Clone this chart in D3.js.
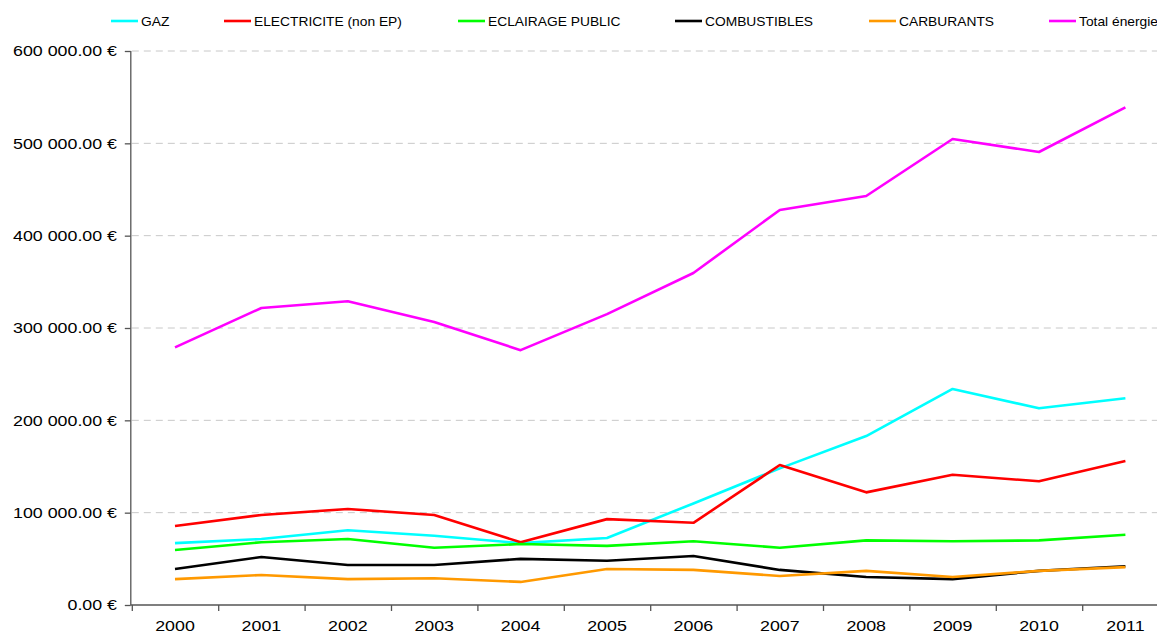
<!DOCTYPE html>
<html>
<head>
<meta charset="utf-8">
<script src="https://cdn.jsdelivr.net/npm/d3@7"></script>
<style>
  body { margin: 0; background: #fff; }
  svg { font-family: "Liberation Sans", Arial, sans-serif; }
  .grid line { stroke: #c8c8c8; stroke-dasharray: 7,5; }
  .axis path, .axis line { stroke: #555; stroke-width: 1.3; }
</style>
</head>
<body>
<div id="chart"></div>
<script>
// data
var years = ["2000","2001","2002","2003","2004","2005","2006","2007","2008","2009","2010","2011"];
var gaz          = [67000, 71500, 81000, 75000, 67000, 72500, 110000, 148000, 183000, 234000, 213000, 224000];
var electricite  = [85500, 97500, 104000, 97500, 68000, 93000, 89000, 151600, 122000, 141000, 134000, 156000];
var eclairage    = [59500, 68000, 71500, 62000, 66000, 64000, 69000, 62000, 70000, 69000, 70000, 76000];
var combustibles = [39000, 52000, 43300, 43300, 50000, 48000, 53000, 38000, 30300, 28000, 37000, 42000];
var carburants   = [28000, 32500, 28000, 29000, 25000, 39000, 38000, 31400, 37000, 30300, 37000, 41000];
var total        = [279000, 321700, 329000, 306500, 276000, 315000, 359600, 427800, 443000, 504700, 490600, 539000];
var yTicks = [0, 100000, 200000, 300000, 400000, 500000, 600000];

var seriesNames  = ["GAZ", "ELECTRICITE (non EP)", "ECLAIRAGE PUBLIC", "COMBUSTIBLES", "CARBURANTS", "Total énergie"];
var seriesColors = ["#00ffff", "#ff0000", "#00ff00", "#000000", "#ff9900", "#ff00ff"];
var seriesValues = [gaz, electricite, eclairage, combustibles, carburants, total];

var width = 1157, height = 635;
var plotLeft = 131.8, plotRight = 1168.6, plotTop = 51, plotBottom = 605;
var stretch = 1.15; // text in the picture is a bit wider than normal

var svg = d3.select("#chart").append("svg")
    .attr("width", width)
    .attr("height", height);

var x = d3.scaleBand()
    .domain(years)
    .range([plotLeft, plotRight])
    .padding(0);

var xEdge = d3.scaleLinear()
    .domain([0, years.length])
    .range([plotLeft, plotRight]);

var y = d3.scaleLinear()
    .domain([0, 600000])
    .range([plotBottom, plotTop]);

var locale = d3.formatLocale({decimal: ".", thousands: " ", grouping: [3], currency: ["", "€"]});
var fmt = locale.format(",.2f");

// gridlines
svg.append("g")
    .attr("class", "grid")
    .selectAll("line")
    .data(yTicks.slice(1))
  .enter().append("line")
    .attr("x1", plotLeft)
    .attr("x2", width)
    .attr("y1", function(d) { return y(d); })
    .attr("y2", function(d) { return y(d); });

// y axis
var yAxis = svg.append("g")
    .attr("class", "axis")
    .attr("transform", "translate(" + (plotLeft - 1) + ",0)")
    .call(d3.axisLeft(y).tickValues(yTicks).tickSize(6).tickPadding(6)
      .tickFormat(function(d) { return fmt(d) + " €"; }));
yAxis.selectAll("text")
    .attr("font-size", 15.5)
    .attr("fill", "#000")
    .attr("font-family", "Liberation Sans, Arial, sans-serif")
    .attr("transform", "scale(" + stretch + ",1)");
yAxis.select(".domain").attr("d", "M0," + plotTop + "V" + plotBottom);

// x axis: ticks on band edges
var xAxisEdge = svg.append("g")
    .attr("class", "axis")
    .attr("transform", "translate(0," + plotBottom + ")")
    .call(d3.axisBottom(xEdge).ticks(years.length).tickSize(6).tickFormat(""));
xAxisEdge.select(".domain").attr("d", "M" + (plotLeft - 1) + ",0H" + width);

// x labels
var xAxis = svg.append("g")
    .attr("transform", "translate(0," + plotBottom + ")")
    .call(d3.axisBottom(x).tickSize(0).tickPadding(15));
xAxis.select(".domain").remove();
xAxis.selectAll("text")
    .attr("font-size", 15.5)
    .attr("fill", "#000")
    .attr("font-family", "Liberation Sans, Arial, sans-serif")
    .attr("transform", "scale(" + stretch + ",1)");

var line = d3.line()
    .x(function(d, i) { return x(years[i]) + x.bandwidth() / 2; })
    .y(function(d) { return y(d); });

for (var s = 0; s < seriesValues.length; s++) {
  svg.append("path")
      .datum(seriesValues[s])
      .attr("fill", "none")
      .attr("stroke", seriesColors[s])
      .attr("stroke-width", 2.6)
      .attr("stroke-linejoin", "round")
      .attr("d", line);
}

// legend
var legendX = [111, 224, 458, 675, 869, 1049];
var legend = svg.append("g");
for (var k = 0; k < seriesNames.length; k++) {
  var g = legend.append("g").attr("transform", "translate(" + legendX[k] + ",21)");
  g.append("line")
      .attr("x1", 0).attr("x2", 27)
      .attr("stroke", seriesColors[k])
      .attr("stroke-width", 2.6);
  g.append("text")
      .attr("x", 30 / stretch)
      .attr("y", 4.5)
      .attr("font-size", 12)
      .attr("transform", "scale(" + stretch + ",1)")
      .text(seriesNames[k]);
}
</script>
</body>
</html>
